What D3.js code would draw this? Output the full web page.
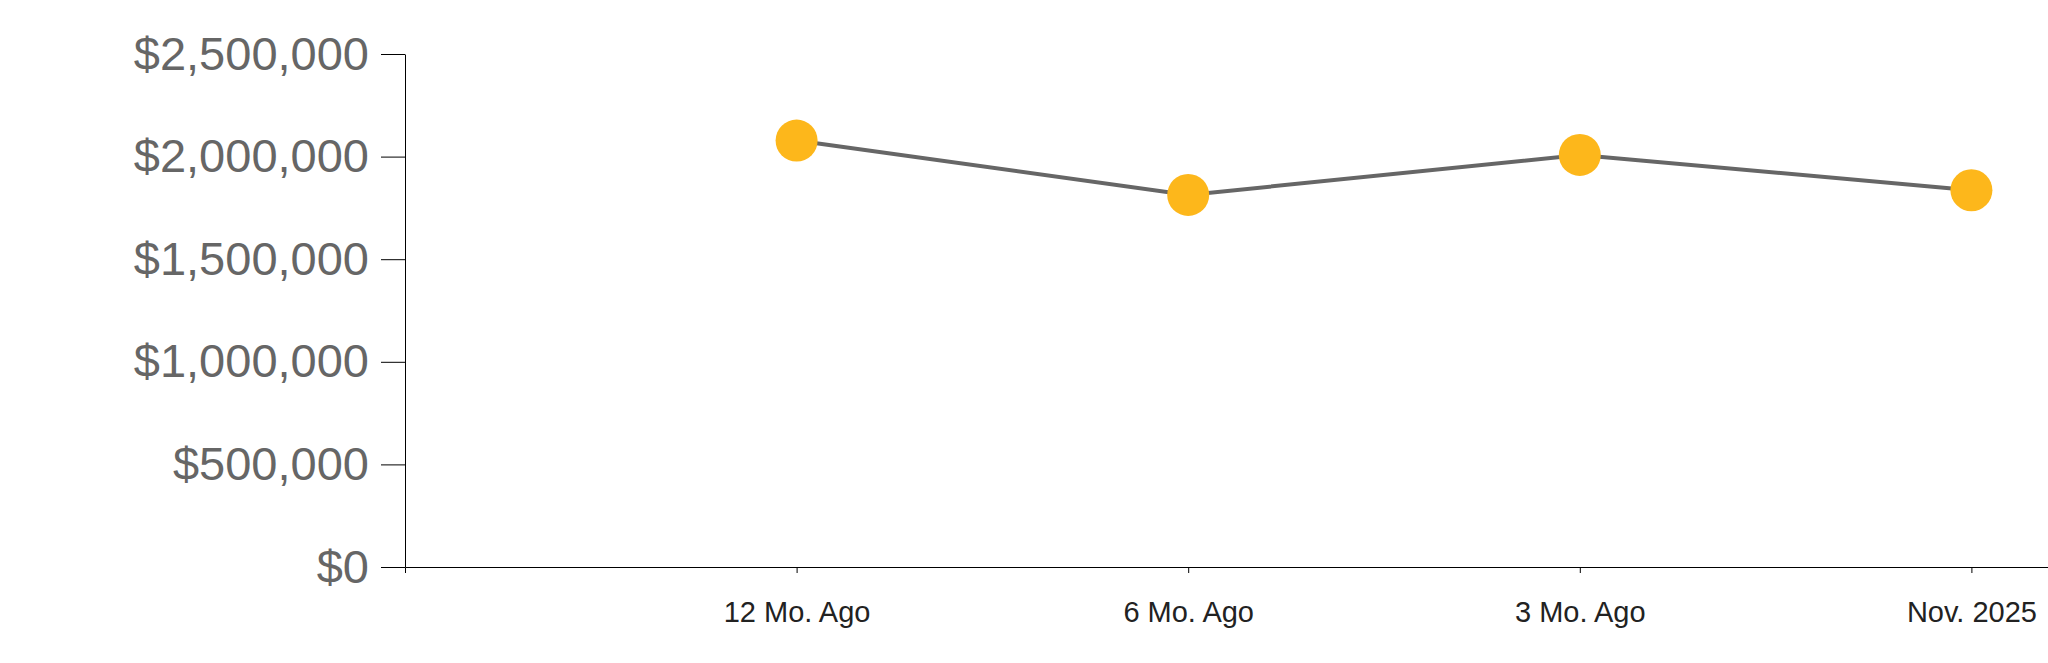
<!DOCTYPE html>
<html>
<head>
<meta charset="utf-8">
<script src="https://cdn.jsdelivr.net/npm/d3@7"></script>
<style>
  html, body { margin: 0; padding: 0; background: #fff; overflow: hidden; }
  svg { display: block; }
</style>
</head>
<body>
<svg id="chart" width="2048" height="663"></svg>
<script>
const categories = ["12 Mo. Ago", "6 Mo. Ago", "3 Mo. Ago", "Nov. 2025"];
const values = [2078000, 1813000, 2008000, 1836000];
const yTicks = [0, 500000, 1000000, 1500000, 2000000, 2500000];

const svg = d3.select("#chart");
const x0 = 405, yBottom = 567, yTop = 54;

const x = d3.scalePoint().domain(categories).range([x0, 2363]).padding(1);
const y = d3.scaleLinear().domain([0, 2500000]).range([yBottom, yTop]);

const fmt = d3.format("$,.0f");

// Y axis
const yAxis = svg.append("g")
  .attr("transform", `translate(${x0},0)`)
  .call(d3.axisLeft(y).tickValues(yTicks).tickFormat(fmt).tickSize(24).tickSizeOuter(0).tickPadding(12));
yAxis.selectAll("path, line").attr("stroke", "#000");
yAxis.selectAll("text")
  .attr("fill", "#666")
  .style("font-family", "'Liberation Sans', Arial, sans-serif")
  .style("font-size", "47px");

// X axis
const xAxis = svg.append("g")
  .attr("transform", `translate(0,${yBottom})`)
  .call(d3.axisBottom(x).tickSize(6).tickSizeOuter(6).tickPadding(28));
xAxis.selectAll("path, line").attr("stroke", "#000");
xAxis.selectAll("text")
  .attr("fill", "#222")
  .style("font-family", "'Liberation Sans', Arial, sans-serif")
  .style("font-size", "29px");

// Line
const line = d3.line()
  .x((d, i) => x(categories[i]))
  .y(d => y(d));

svg.append("path")
  .datum(values)
  .attr("d", line)
  .attr("fill", "none")
  .attr("stroke", "#666")
  .attr("stroke-width", 4);

// Points
svg.selectAll("circle.pt")
  .data(values)
  .join("circle")
  .attr("class", "pt")
  .attr("cx", (d, i) => x(categories[i]))
  .attr("cy", d => y(d))
  .attr("r", 21)
  .attr("fill", "#fdb71b");
</script>
</body>
</html>
